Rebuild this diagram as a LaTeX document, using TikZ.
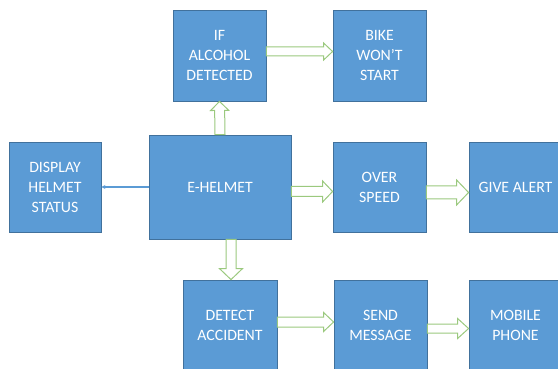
\documentclass[tikz,border=0pt]{standalone}
\usepackage{fontspec}
\setmainfont{Carlito}
\usepackage{tikz}
\usetikzlibrary{arrows.meta,positioning,calc}
\definecolor{BoxBlue}{HTML}{5B9BD5}
\definecolor{BoxEdge}{HTML}{41719C}
\definecolor{ArrowGreen}{HTML}{9BC97E}
% hollow block arrow: start, end, shaft half width, head half width, head length
\newcommand{\blockarrow}[5]{%
  \coordinate (ba-h) at ($(#2)!#5!(#1)$);
  \draw[fatarrow] ($(#1)!#3!90:(#2)$) -- ($(ba-h)!#3!90:(#2)$) -- ($(ba-h)!#4!90:(#2)$) -- (#2)
    -- ($(ba-h)!#4!-90:(#2)$) -- ($(ba-h)!#3!-90:(#2)$) -- ($(#1)!#3!-90:(#2)$) -- cycle;}
\begin{document}
\begin{tikzpicture}[x=1pt,y=-1pt,box/.style={draw=BoxEdge,line width=0.8pt,fill=BoxBlue,text=white,align=center,inner sep=0pt,minimum width=93pt,minimum height=91pt,font=\fontsize{15.8}{20}\selectfont},fatarrow/.style={draw=ArrowGreen,fill=white,line width=1pt,line join=miter},thin/.style={-{Stealth[length=4pt,width=4pt]},BoxBlue,line width=1.2pt}]
  \clip (0,0) rectangle (558,369);
  \node[box,minimum width=142pt,minimum height=104pt] (helmet) at (220,187) {E-HELMET};
  \node[box] (alcohol) at (219.5,55.5) {IF\\ALCOHOL\\DETECTED};
  \node[box] (bike) at (379.5,55.5) {BIKE\\WON’T\\START};
  \node[box,minimum width=92pt,minimum height=90pt] (display) at (55,187) {DISPLAY\\HELMET\\STATUS};
  \node[box,minimum height=90pt] (speed) at (379.5,187) {OVER\\SPEED};
  \node[box,minimum height=90pt] (alert) at (515.5,187) {GIVE ALERT};
  \node[box,minimum width=94pt,minimum height=90pt] (accident) at (230,325) {DETECT\\ACCIDENT};
  \node[box,minimum height=90pt] (message) at (380.5,325) {SEND\\MESSAGE};
  \node[box,minimum height=90pt] (phone) at (515.5,325) {MOBILE\\PHONE};
  % arrow end points
  \coordinate (a1) at ($(alcohol.east)+(0,-4)$);
  \coordinate (b1) at ($(bike.west)+(0,-4)$);
  \coordinate (a2) at (helmet.north);
  \coordinate (b2) at (alcohol.south);
  \coordinate (a3) at ($(helmet.south)+(11,0)$);
  \coordinate (b3) at ($(accident.north)+(1,0)$);
  \coordinate (a4) at ($(helmet.east)+(0,4.5)$);
  \coordinate (b4) at ($(speed.west)+(0,4.5)$);
  \coordinate (a5) at ($(speed.east)+(0,5.5)$);
  \coordinate (b5) at ($(alert.west)+(0,5.5)$);
  \coordinate (a6) at ($(accident.east)+(0,-3)$);
  \coordinate (b6) at ($(message.west)+(0,-3)$);
  \coordinate (a7) at ($(message.east)+(0,3.5)$);
  \coordinate (b7) at ($(phone.west)+(0,3.5)$);
  \blockarrow{a1}{b1}{4.5pt}{8.5pt}{9pt}
  \blockarrow{a2}{b2}{5pt}{9pt}{9pt}
  \blockarrow{a3}{b3}{5pt}{11.5pt}{11pt}
  \blockarrow{a4}{b4}{5pt}{10.5pt}{10pt}
  \blockarrow{a5}{b5}{6.5pt}{12.5pt}{12pt}
  \blockarrow{a6}{b6}{5pt}{9.5pt}{10pt}
  \blockarrow{a7}{b7}{4.5pt}{10pt}{11pt}
  \draw[thin] (helmet.west)--(display.east);
\end{tikzpicture}
\end{document}
